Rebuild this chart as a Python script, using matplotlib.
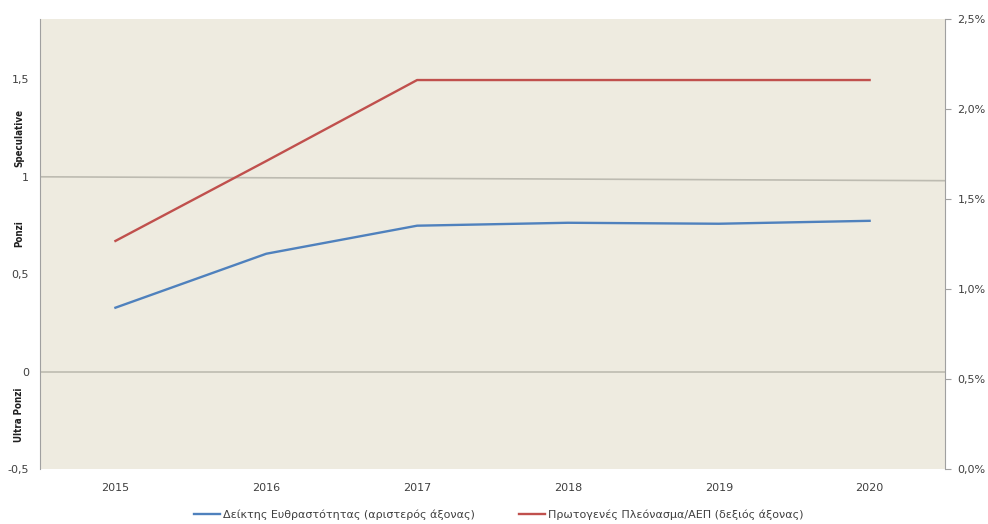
import matplotlib
matplotlib.use('Agg')
import numpy as np
from matplotlib import pyplot as plt
from matplotlib import transforms

years = ['2015', '2016', '2017', '2018', '2019', '2020']
liquidity = [0.328, 0.605, 0.749, 0.764, 0.759, 0.774]
surplus = [1.267, 1.711, 2.161, 2.161, 2.161, 2.161]
left_ticks = [-0.5, 0, 0.5, 1, 1.5]
left_labels = ['-0,5', '0', '0,5', '1', '1,5']
right_ticks = [0.0, 0.5, 1.0, 1.5, 2.0, 2.5]
right_labels = ['0,0%', '0,5%', '1,0%', '1,5%', '2,0%', '2,5%']
zones = ['Speculative', 'Ponzi', 'Ultra Ponzi']
zone_pos = [1.2, 0.71, -0.22]
threshold_1 = [1.0, 0.98]
threshold_0 = [0.0, 0.0]

blue = '#4F81BD'
red = '#C0504D'
bg = '#EEEBE0'
grid = '#BDBBB1'
txt = '#404040'

fig = plt.figure(figsize=(9.88, 5.24), dpi=100)
ax = fig.add_axes([0.0405, 0.105, 0.916, 0.8587])
ax.set_facecolor(bg)
x = np.arange(len(years))

ax.plot([0, 1], threshold_1, color=grid, lw=1.2, transform=ax.get_yaxis_transform())
ax.plot([0, 1], threshold_0, color=grid, lw=1.2, transform=ax.get_yaxis_transform())

l1, = ax.plot(x, liquidity, color=blue, lw=1.7)
ax.set_xlim(-0.5, len(years) - 0.5)
ax.set_ylim(-0.5, 1.81)
ax.set_yticks(left_ticks)
ax.set_yticklabels(left_labels, color=txt, fontsize=8)
ax.set_xticks(x)
ax.set_xticklabels(years, color=txt, fontsize=8)
ax.tick_params(axis='y', length=0, pad=8)
ax.tick_params(axis='x', length=0, pad=10)
for s in ['top', 'bottom', 'right']:
    ax.spines[s].set_visible(False)
ax.spines['left'].set_color('#A0A0A0')

ax2 = ax.twinx()
l2, = ax2.plot(x, surplus, color=red, lw=1.7)
ax2.set_ylim(0, 2.5)
ax2.set_yticks(right_ticks)
ax2.set_yticklabels(right_labels, color=txt, fontsize=8)
ax2.tick_params(axis='y', length=4, color='#A0A0A0', pad=5)
for s in ['top', 'bottom', 'left']:
    ax2.spines[s].set_visible(False)
ax2.spines['right'].set_color('#A0A0A0')

trans = transforms.blended_transform_factory(ax.transAxes, ax.transData)
for name, pos in zip(zones, zone_pos):
    ax.text(-0.023, pos, name, transform=trans, rotation=90, ha='center', va='center',
            fontsize=7, fontweight='bold', color='#202020', fontstretch='condensed',
            family=['Liberation Sans Narrow', 'DejaVu Sans'])

fig.legend([l1, l2], ['Δείκτης Ευθραστότητας (αριστερός άξονας)',
                      'Πρωτογενές Πλεόνασμα/ΑΕΠ (δεξιός άξονας)'],
           loc='lower center', bbox_to_anchor=(0.505, -0.012), ncol=2, frameon=False,
           fontsize=8, labelcolor=txt, handlelength=2.3, handletextpad=0.3,
           columnspacing=4)

fig.savefig('out.png', dpi=100)
